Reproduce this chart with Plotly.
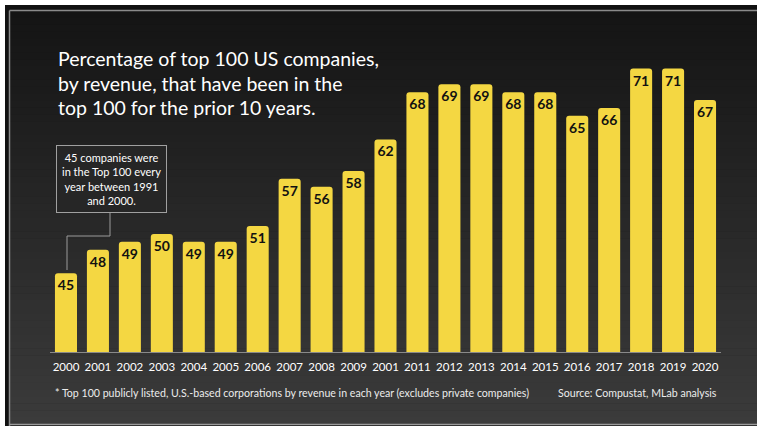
import plotly.graph_objects as go

# Share of the top 100 US companies (by revenue) that were also in the top 100 for the prior 10 years
year_labels = ["2000", "2001", "2002", "2003", "2004", "2005", "2006", "2007", "2008", "2009",
               "2001", "2011", "2012", "2013", "2014", "2015", "2016", "2017", "2018", "2019", "2020"]
values = [45, 48, 49, 50, 49, 49, 51, 57, 56, 58, 62, 68, 69, 69, 68, 68, 65, 66, 71, 71, 67]
positions = list(range(len(values)))

title_lines = ["Percentage of top 100 US companies,",
               "by revenue, that have been in the",
               "top 100 for the prior 10 years."]
callout_lines = ["45 companies were", "in the Top 100 every", "year between 1991", "and 2000."]
footnote = "* Top 100 publicly listed, U.S.-based corporations by revenue in each year (excludes private companies)"
source = "Source: Compustat, MLab analysis"

W, H = 757, 426
ML, MR, MT, MB = 50, 36, 37, 74
PW, PH = W - ML - MR, H - MT - MB
FONT = "Lato"


def px(x):
    return (x - ML) / PW


def py(y):
    return (H - MB - y) / PH


shapes = []
# outer dark frame
shapes.append(dict(type="rect", xref="paper", yref="paper", x0=px(5), x1=px(W), y0=py(H), y1=py(5),
                   fillcolor="#111111", line=dict(width=0), layer="below"))
# vertical gradient panel
top, bottom = 11, 424
bands = 60
c0, c1 = 20, 59
for i in range(bands):
    y0 = top + (bottom - top) * i / bands
    y1 = top + (bottom - top) * (i + 1) / bands
    c = round(c0 + (c1 - c0) * (i + 0.5) / bands)
    shapes.append(dict(type="rect", xref="paper", yref="paper", x0=px(10), x1=px(W),
                       y0=py(y1 + 0.5), y1=py(y0), fillcolor=f"rgb({c},{c},{c})",
                       line=dict(width=0), layer="below"))
# frame lines
shapes.append(dict(type="line", xref="paper", yref="paper", x0=px(9.5), x1=px(W), y0=py(10.5), y1=py(10.5),
                   line=dict(color="#8a8a8a", width=1.5), layer="below"))
shapes.append(dict(type="line", xref="paper", yref="paper", x0=px(9.5), x1=px(9.5), y0=py(10.5), y1=py(H),
                   line=dict(color="#8a8a8a", width=1.5), layer="below"))
shapes.append(dict(type="line", xref="paper", yref="paper", x0=px(9.5), x1=px(W), y0=py(424.5), y1=py(424.5),
                   line=dict(color="#9a9a9a", width=1.5), layer="below"))
# callout connector
shapes.append(dict(type="path", xref="paper", yref="paper",
                   path=f"M {px(110)},{py(212)} L {px(110)},{py(236)} L {px(67)},{py(236)} L {px(67)},{py(270)}",
                   line=dict(color="#9a9a9a", width=1)))

annotations = []
for i, line in enumerate(title_lines):
    annotations.append(dict(text=line, xref="paper", yref="paper", x=px(56), y=py(59 + i * 24),
                            xanchor="left", yanchor="middle", showarrow=False,
                            font=dict(family=FONT, size=19.5, color="#ffffff")))
annotations.append(dict(text="<br>".join(callout_lines), xref="paper", yref="paper",
                        x=px(111), y=py(179.5), xanchor="center", yanchor="middle", showarrow=False,
                        align="center", font=dict(family=FONT, size=11, color="#ffffff"),
                        bgcolor="#262626", bordercolor="#a0a0a0", borderwidth=1, borderpad=5))
annotations.append(dict(text=footnote, xref="paper", yref="paper", x=px(53), y=py(393),
                        xanchor="left", yanchor="middle", showarrow=False,
                        font=dict(family=FONT, size=10.6, color="#ececec")))
annotations.append(dict(text=source, xref="paper", yref="paper", x=px(719), y=py(393),
                        xanchor="right", yanchor="middle", showarrow=False,
                        font=dict(family=FONT, size=10.6, color="#ececec")))

fig = go.Figure(go.Bar(
    x=positions, y=values,
    marker=dict(color="#f4d742", line=dict(width=0)),
    text=[f"<b>{v}</b>" for v in values],
    textposition="inside", insidetextanchor="end", textangle=0, constraintext="none",
    textfont=dict(family=FONT, size=14, color="#111111"),
    hoverinfo="skip",
))

fig.update_layout(
    width=W, height=H,
    margin=dict(l=ML, r=MR, t=MT, b=MB),
    paper_bgcolor="#ffffff", plot_bgcolor="rgba(0,0,0,0)",
    bargap=0.31, barcornerradius=3,
    showlegend=False,
    shapes=shapes, annotations=annotations,
    xaxis=dict(range=[-0.5, len(values) - 0.5], tickvals=positions, ticktext=year_labels,
               showgrid=False, zeroline=False, showline=True, linecolor="#8a8a8a", linewidth=1,
               ticks="", ticklabelstandoff=4, tickfont=dict(family=FONT, size=11.5, color="#ffffff")),
    yaxis=dict(range=[35, 75], visible=False, showgrid=False, zeroline=False),
)

fig.write_html("out.html")
